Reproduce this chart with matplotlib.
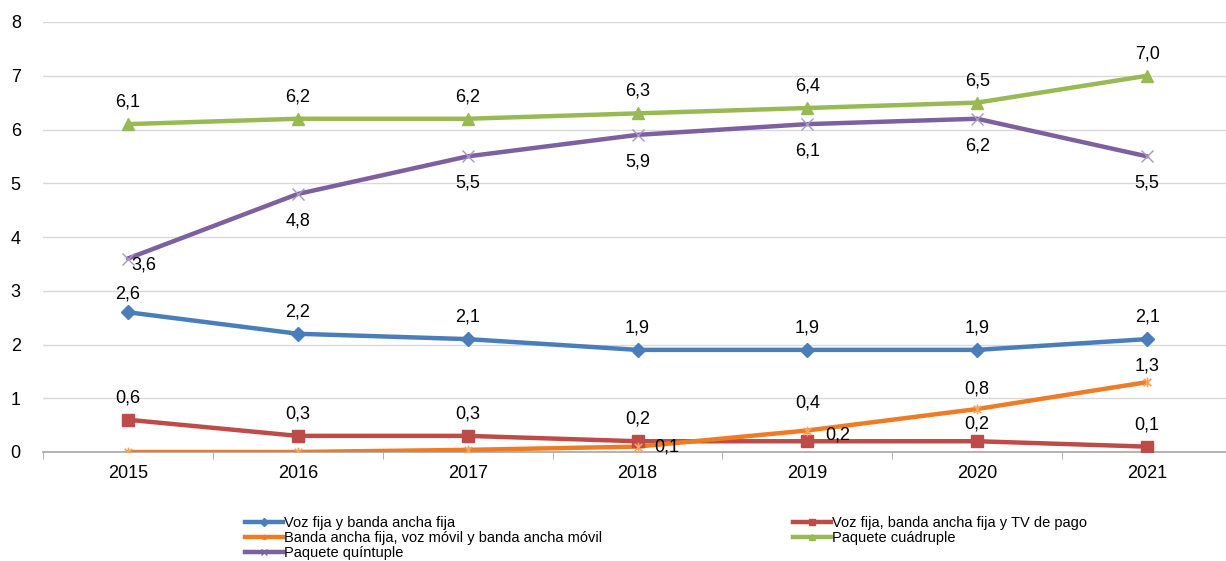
import numpy as np
import matplotlib
matplotlib.use("Agg")
import matplotlib.pyplot as plt
from matplotlib.path import Path
from matplotlib.lines import Line2D

plt.rcParams['font.family'] = ['Liberation Sans', 'DejaVu Sans']

years = ["2015", "2016", "2017", "2018", "2019", "2020", "2021"]

voz_banda = [2.6, 2.2, 2.1, 1.9, 1.9, 1.9, 2.1]
voz_banda_tv = [0.6, 0.3, 0.3, 0.2, 0.2, 0.2, 0.1]
banda_movil = [0.0, 0.0, 0.04, 0.1, 0.4, 0.8, 1.3]
cuadruple = [6.1, 6.2, 6.2, 6.3, 6.4, 6.5, 7.0]
quintuple = [3.6, 4.8, 5.5, 5.9, 6.1, 6.2, 5.5]

names = [
    "Voz fija y banda ancha fija",
    "Voz fija, banda ancha fija y TV de pago",
    "Banda ancha fija, voz móvil y banda ancha móvil",
    "Paquete cuádruple",
    "Paquete quíntuple",
]

# asterisk-like marker: an x with a vertical stroke
star = Path([(-1, -1), (1, 1), (-1, 1), (1, -1), (0, -1.3), (0, 1.3)],
            [Path.MOVETO, Path.LINETO, Path.MOVETO, Path.LINETO, Path.MOVETO, Path.LINETO])

W, H = 1226, 561
fig = plt.figure(figsize=(W / 100, H / 100), dpi=100)
ax = fig.add_axes([43 / W, (H - 452) / H, (1232 - 43) / W, 430 / H])

x = np.arange(len(years))

series = [
    # values, color, marker, size, marker edge width, default label offset, per-point offsets
    (voz_banda, "#4A7EBB", "D", 7, 1, (0, 22), {0: (0, 18)}),
    (voz_banda_tv, "#BE4B48", "s", 8, 1, (0, 22), {4: (30, 6), 5: (0, 17)}),
    (banda_movil, "#EE7C24", star, 7, 1.2, (0, 20), {0: None, 1: None, 2: None, 3: (29, 0), 4: (0, 27), 6: (0, 16)}),
    (cuadruple, "#98B954", "^", 9, 1, (0, 22), {}),
    (quintuple, "#7D60A0", "x", 9, 1.0, (0, -27), {0: (16, -7)}),
]

order = [3, 4, 0, 1, 2]
for idx in order:
    vals, col, mk, ms, mew, off, special = series[idx]
    ax.plot(x, vals, color=col, lw=3.2, solid_capstyle="round", solid_joinstyle="round", zorder=3)
    if mk == "x":
        ax.plot(x, vals, ls="none", marker="x", ms=ms, mew=mew, color="#A897C2", zorder=4)
    elif mk is star:
        ax.plot(x, vals, ls="none", marker=mk, ms=ms, mew=mew, color="#F5A35A", zorder=4)
    else:
        ax.plot(x, vals, ls="none", marker=mk, ms=ms, color=col, mec=col, zorder=4)
    for i, v in enumerate(vals):
        o = special.get(i, off)
        if o is None:
            continue
        ax.annotate(f"{v:.1f}".replace(".", ","), (i, v), xytext=o,
                    textcoords="offset pixels", ha="center", va="center",
                    fontsize=13, color="#000000", zorder=5)

ax.set_xlim(-0.5, len(years) - 0.5)
ax.set_ylim(0, 8)
ax.set_yticks(range(0, 9))
ax.set_xticks(x)
ax.set_xticklabels(years)
ax.set_xticks(np.arange(-0.5, len(years), 1.0), minor=True)
ax.tick_params(axis="x", which="major", length=0, pad=9, labelsize=13)
ax.tick_params(axis="x", which="minor", length=5, color="#A6A6A6", direction="out")
ax.tick_params(axis="y", length=0, pad=16, labelsize=13)
ax.grid(axis="y", color="#D9D9D9", lw=1)
ax.set_axisbelow(True)
for s in ("top", "left", "right"):
    ax.spines[s].set_visible(False)
ax.spines["bottom"].set_color("#A6A6A6")
ax.spines["bottom"].set_linewidth(1.2)
ax.spines["bottom"].set_zorder(2)


def handle(idx):
    vals, col, mk, ms, mew, off, special = series[idx]
    return Line2D([], [], color=col, lw=3.2, marker=mk, ms=4, mew=1, mec=col, mfc=col)


leg_kw = dict(frameon=False, fontsize=10.5, handlelength=2.6, handletextpad=0.1,
              labelspacing=0.08, borderpad=0, borderaxespad=0, loc="upper left")
fig.legend([handle(0), handle(2), handle(4)], [names[0], names[2], names[4]],
           bbox_to_anchor=(245 / W, (H - 516) / H), **leg_kw)
fig.legend([handle(1), handle(3)], [names[1], names[3]],
           bbox_to_anchor=(793 / W, (H - 516) / H), **leg_kw)

fig.savefig("out.png", dpi=100)
